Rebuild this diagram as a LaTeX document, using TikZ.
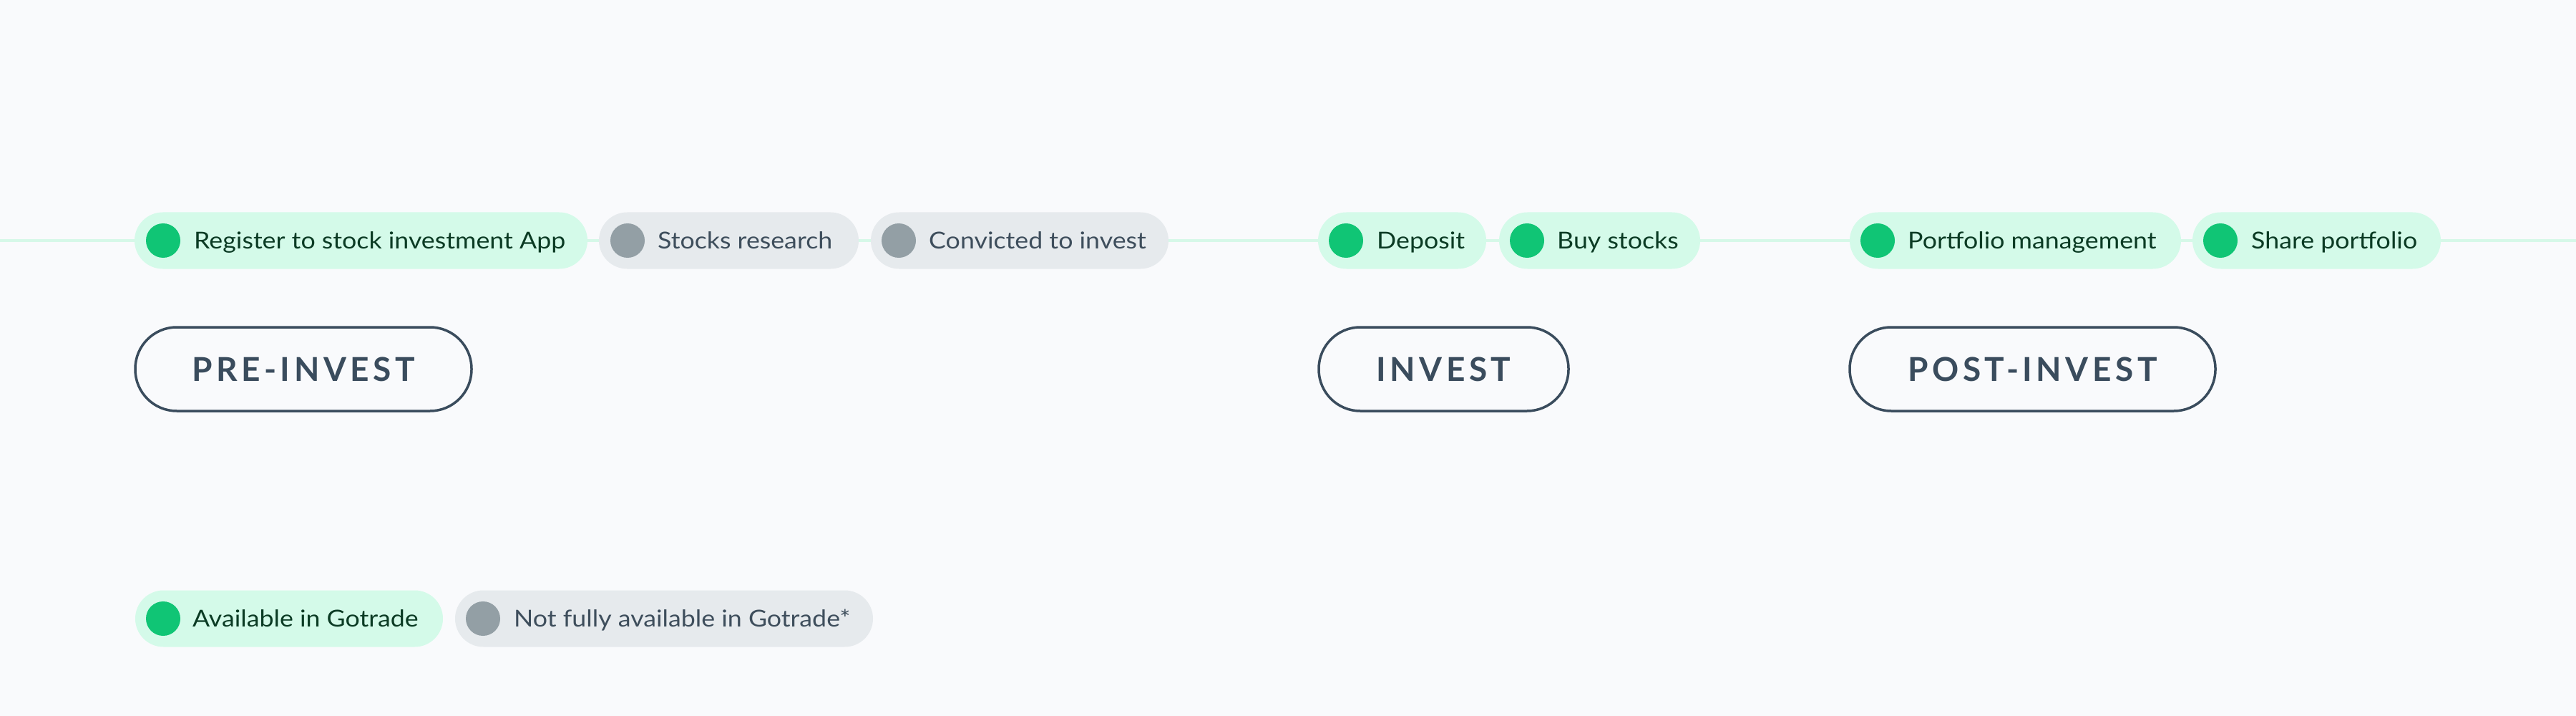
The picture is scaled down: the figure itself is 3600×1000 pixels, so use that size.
\documentclass[tikz,border=0pt]{standalone}
\usepackage{fontspec}
\setmainfont[FakeStretch=1.1]{Lato}
\newfontfamily\stagefont[LetterSpace=12]{Lato Bold}
\definecolor{bgc}{HTML}{F9FAFC}
\definecolor{trackc}{HTML}{D6F8E8}
\definecolor{gfill}{HTML}{D4FAE9}
\definecolor{gdotc}{HTML}{10C575}
\definecolor{gtextc}{HTML}{0B3B24}
\definecolor{nfill}{HTML}{E6EAED}
\definecolor{ndotc}{HTML}{939FA5}
\definecolor{ntextc}{HTML}{3E4E5C}
\definecolor{stagec}{HTML}{3A4C5D}
\tikzset{
  track/.style={draw=trackc, line width=4.5pt},
  pillbase/.style={rectangle, rounded corners=39.5pt, minimum height=79pt, inner sep=0pt},
  gpill/.style={pillbase, fill=gfill},
  npill/.style={pillbase, fill=nfill},
  dotbase/.style={circle, minimum size=48pt, inner sep=0pt},
  gdot/.style={dotbase, fill=gdotc},
  ndot/.style={dotbase, fill=ndotc},
  pilltext/.style={anchor=base west, inner sep=0pt, font=\fontsize{32.5pt}{36pt}\selectfont},
  gtext/.style={pilltext, text=gtextc},
  ntext/.style={pilltext, text=ntextc},
  stagebox/.style={rectangle, rounded corners=58pt, minimum height=117pt, draw=stagec, line width=3.5pt, fill=bgc, inner sep=0pt},
  stagetext/.style={text=stagec, inner sep=0pt, font=\stagefont\fontsize{46pt}{50pt}\selectfont}
}
\begin{document}
\begin{tikzpicture}[x=1pt,y=-1pt]
\fill[bgc] (0,0) rectangle (3600,1000);
\useasboundingbox (0,0) rectangle (3600,1000);
% track line
\coordinate (ls) at (0,336);
\coordinate (le) at (3600,336);
\draw[track] (ls) -- (le);
% pills
\node[gpill, minimum width=633pt] (p1) at (504.5,336) {};
\node[gdot] (d1) at (228,336) {};
\node[gtext] (t1) at (271,347) {Register to stock investment App};

\node[npill, minimum width=363pt] (p2) at (1018.5,336) {};
\node[ndot] (d2) at (877,336) {};
\node[ntext] (t2) at (919,347) {Stocks research};

\node[npill, minimum width=416pt] (p3) at (1425,336) {};
\node[ndot] (d3) at (1256,336) {};
\node[ntext] (t3) at (1298,347) {Convicted to invest};

\node[gpill, minimum width=235pt] (p4) at (1959.5,336) {};
\node[gdot] (d4) at (1881,336) {};
\node[gtext] (t4) at (1924,347) {Deposit};

\node[gpill, minimum width=281pt] (p5) at (2235.5,336) {};
\node[gdot] (d5) at (2134,336) {};
\node[gtext] (t5) at (2176,347) {Buy stocks};

\node[gpill, minimum width=463pt] (p6) at (2816.5,336) {};
\node[gdot] (d6) at (2624,336) {};
\node[gtext] (t6) at (2666,347) {Portfolio management};

\node[gpill, minimum width=347pt] (p7) at (3237.5,336) {};
\node[gdot] (d7) at (3103,336) {};
\node[gtext] (t7) at (3146,347) {Share portfolio};

% stages
\node[stagebox, minimum width=470pt] (s1) at (424,515.5) {};
\node[stagetext] (st1) at (s1.center) {PRE-INVEST};
\node[stagebox, minimum width=349pt] (s2) at (2017.5,515.5) {};
\node[stagetext] (st2) at (s2.center) {INVEST};
\node[stagebox, minimum width=511pt] (s3) at (2840.5,515.5) {};
\node[stagetext] (st3) at (s3.center) {POST-INVEST};

% legend
\node[gpill, minimum width=430pt] (l1) at (404,864) {};
\node[gdot] (ld1) at (228,864) {};
\node[gtext] (lt1) at (269,875) {Available in Gotrade};
\node[npill, minimum width=584pt] (l2) at (928,864) {};
\node[ndot] (ld2) at (675,864) {};
\node[ntext] (lt2) at (718,875) {Not fully available in Gotrade*};
\end{tikzpicture}
\end{document}
